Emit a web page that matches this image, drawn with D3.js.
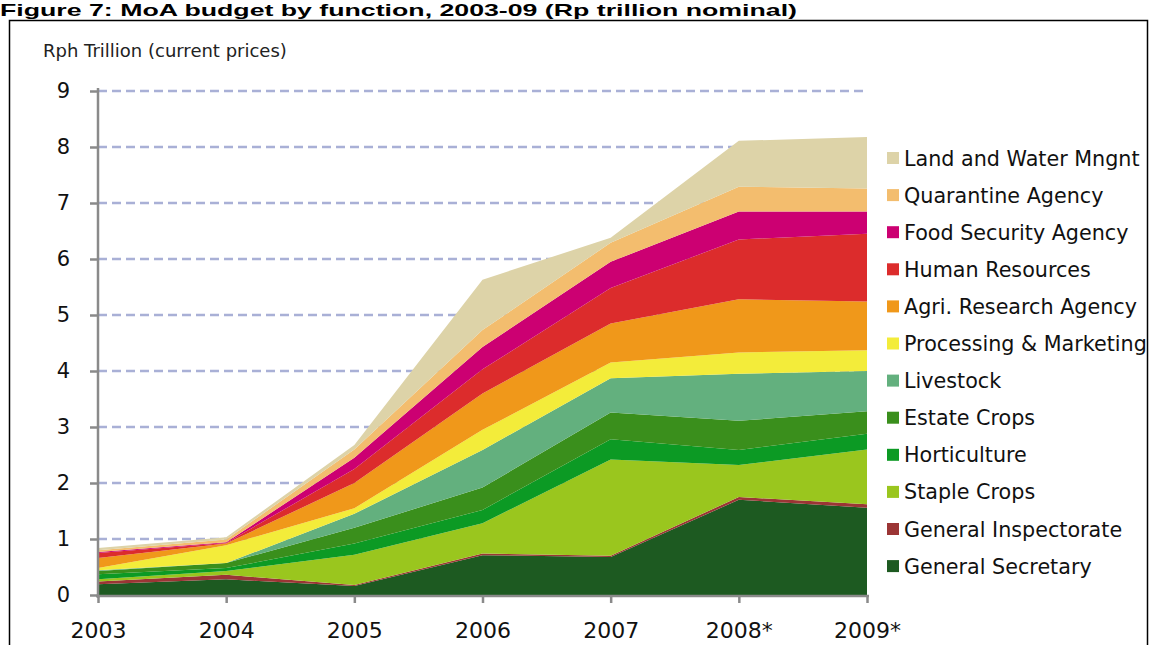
<!DOCTYPE html>
<html><head><meta charset="utf-8">
<script src="https://cdn.jsdelivr.net/npm/d3@7"></script>
<style>html,body{margin:0;padding:0;background:#fff;overflow:hidden}svg{display:block}</style>
</head><body>
<svg id="c" width="1159" height="645"></svg>
<script>
const years = ["2003","2004","2005","2006","2007","2008*","2009*"];
const yTicks = [0,1,2,3,4,5,6,7,8,9];
// series, bottom to top (Rp trillion)
const generalSecretary     = [0.19, 0.28, 0.16, 0.71, 0.68, 1.70, 1.56];
const generalInspectorate  = [0.05, 0.08, 0.02, 0.03, 0.02, 0.05, 0.06];
const stapleCrops          = [0.04, 0.07, 0.54, 0.54, 1.72, 0.57, 0.98];
const horticulture         = [0.09, 0.05, 0.20, 0.24, 0.36, 0.27, 0.28];
const estateCrops          = [0.06, 0.09, 0.28, 0.40, 0.48, 0.52, 0.40];
const livestock            = [0.01, 0.00, 0.25, 0.67, 0.61, 0.84, 0.72];
const processingMarketing  = [0.04, 0.32, 0.10, 0.36, 0.28, 0.38, 0.37];
const agriResearch         = [0.18, 0.03, 0.45, 0.65, 0.70, 0.95, 0.87];
const humanResources       = [0.09, 0.01, 0.25, 0.43, 0.63, 1.07, 1.21];
const foodSecurity         = [0.02, 0.01, 0.20, 0.40, 0.47, 0.50, 0.40];
const quarantine           = [0.03, 0.05, 0.15, 0.30, 0.34, 0.44, 0.41];
const landWater            = [0.04, 0.04, 0.08, 0.90, 0.09, 0.82, 0.92];

const seriesNames = ["General Secretary","General Inspectorate","Staple Crops","Horticulture","Estate Crops","Livestock","Processing & Marketing","Agri. Research Agency","Human Resources","Food Security Agency","Quarantine Agency","Land and Water Mngnt"];
const seriesValues = [generalSecretary,generalInspectorate,stapleCrops,horticulture,estateCrops,livestock,processingMarketing,agriResearch,humanResources,foodSecurity,quarantine,landWater];
const colors = ["#1d5a21","#9b3535","#9ac61e","#0c9a24","#3a8f1c","#63b07e","#f3ec3a","#f0981a","#dc2c2c","#cc0072","#f3bd6e","#ddd3a8"];

const table = years.map((yr,i)=>{const o={year:yr}; seriesNames.forEach((n,k)=>o[n]=seriesValues[k][i]); return o;});
const stacked = d3.stack().keys(seriesNames)(table);

const svg = d3.select("#c");
const x = d3.scalePoint().domain(years).range([98, 867]);
const y = d3.scaleLinear().domain([0,9]).range([595, 91]);
const font = "'DejaVu Sans', Verdana, sans-serif";

// title
svg.append("text").attr("x",0).attr("y",16).attr("font-family","'Liberation Sans', Arial, sans-serif")
  .attr("font-weight","bold").attr("font-size",17).attr("fill","#000")
  .attr("textLength",797).attr("lengthAdjust","spacingAndGlyphs")
  .text("Figure 7: MoA budget by function, 2003-09 (Rp trillion nominal)");

// frame
svg.append("rect").attr("x",9.5).attr("y",20.5).attr("width",1138).attr("height",700)
  .attr("fill","#fff").attr("stroke","#000").attr("stroke-width",1.5);

// y title
svg.append("text").attr("x",43).attr("y",57).attr("font-family",font).attr("font-size",18)
  .attr("fill","#222").text("Rph Trillion (current prices)");

// gridlines
svg.append("g").selectAll("line").data(yTicks.filter(d=>d>0)).join("line")
  .attr("x1",98).attr("x2",868).attr("y1",d=>y(d)).attr("y2",d=>y(d))
  .attr("stroke","#a9b0d6").attr("stroke-width",2.5).attr("stroke-dasharray","9,5");

// areas
const area = d3.area().x(d=>x(d.data.year)).y0(d=>y(d[0])).y1(d=>y(d[1]));
svg.append("g").selectAll("path").data(stacked).join("path")
  .attr("d",area).attr("fill",(d,i)=>colors[i]);

// axes
const yAxis = d3.axisLeft(y).tickValues(yTicks).tickSize(8).tickPadding(20);
const gy = svg.append("g").attr("transform","translate(98,0)").call(yAxis);
gy.select(".domain").attr("stroke","#8a8a8a").attr("stroke-width",2.5).attr("d","M0,88V598");
gy.selectAll(".tick line").attr("stroke","#8a8a8a").attr("stroke-width",2.5);
gy.selectAll(".tick text").attr("font-family",font).attr("font-size",21).attr("fill","#111");

const xAxis = d3.axisBottom(x).tickSize(7).tickPadding(22);
const gx = svg.append("g").attr("transform","translate(0,596)").call(xAxis);
gx.select(".domain").attr("stroke","#8a8a8a").attr("stroke-width",2.5).attr("d","M96,0H869");
gx.selectAll(".tick line").attr("stroke","#8a8a8a").attr("stroke-width",2.5);
gx.selectAll(".tick text").attr("font-family",font).attr("font-size",22).attr("fill","#111")
  .attr("dy",null).attr("y",42);

// legend (top to bottom = reverse stack order)
const legendItems = seriesNames.map((n,i)=>({n,c:colors[i]})).reverse();
const lg = svg.append("g").selectAll("g").data(legendItems).join("g")
  .attr("transform",(d,i)=>`translate(887,${158 + i*37.1})`);
lg.append("rect").attr("x",0).attr("y",-6).attr("width",12).attr("height",12).attr("fill",d=>d.c);
lg.append("text").attr("x",17).attr("y",7.5).attr("font-family",font).attr("font-size",20.7)
  .attr("fill","#111").text(d=>d.n);
</script>
</body></html>
